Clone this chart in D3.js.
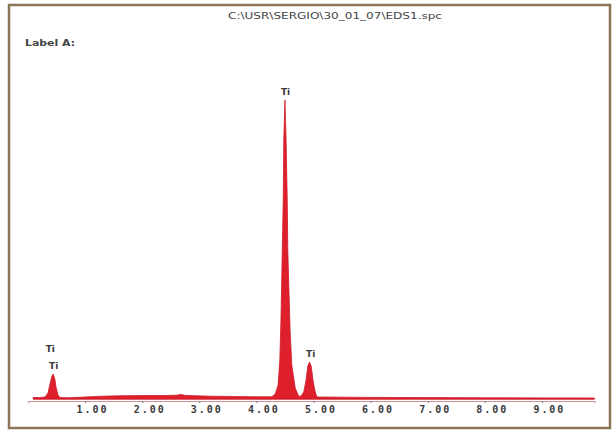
<!DOCTYPE html>
<html>
<head>
<meta charset="utf-8">
<script src="https://cdn.jsdelivr.net/npm/d3@7"></script>
<style>
  body { margin: 0; background: #ffffff; }
  .tickText { font-family: "DejaVu Sans Mono", monospace; font-weight: bold; font-size: 10px; fill: #3a3a3a; }
  .peakText { font-family: "DejaVu Sans", sans-serif; font-weight: bold; font-size: 9px; fill: #3a3a3a; }
  .headText { font-family: "DejaVu Sans", sans-serif; font-size: 8px; fill: #444; }
</style>
</head>
<body>
<div id="spectrum"></div>
<script>
// Spectrum (keV, counts)
var energy = [0.09, 0.20, 0.30, 0.35, 0.385, 0.42, 0.44, 0.47, 0.49, 0.525, 0.56, 0.70, 1.00, 1.30, 1.60, 2.00, 2.40,
    2.60, 2.68, 2.76, 3.20, 3.60, 4.00, 4.27, 4.33, 4.38, 4.41, 4.43, 4.45, 4.47, 4.48, 4.50, 4.52, 4.54, 4.55, 4.57,
    4.59, 4.62, 4.68, 4.73, 4.76, 4.78, 4.83, 4.87, 4.90, 4.93, 4.96, 4.99, 5.03, 5.06, 5.50, 6.00, 7.00, 8.00, 9.00, 9.92];
var counts = [15, 15, 20, 60, 150, 230, 250, 200, 120, 40, 15, 12, 20, 28, 32, 35, 35,
    38, 45, 36, 28, 25, 22, 22, 50, 140, 390, 790, 1390, 2000, 2600, 3000, 2600, 2000, 1490, 1090,
    690, 340, 110, 40, 25, 30, 70, 190, 330, 370, 330, 190, 70, 20, 18, 16, 14, 12, 11, 10];

// Peak labels
var peakNames = ["Ti", "Ti", "Ti", "Ti"];
var peakEnergy = [0.39, 0.45, 4.51, 4.95];
var peakCounts = [420, 250, 3000, 370];

var tickValues = [1, 2, 3, 4, 5, 6, 7, 8, 9];
var fileName = "C:\\USR\\SERGIO\\30_01_07\\EDS1.spc";
var labelName = "Label A:";

var svgWidth = 612;
var svgHeight = 432;

var svg = d3.select("#spectrum")
    .append("svg")
    .attr("width", svgWidth)
    .attr("height", svgHeight);

// brown frame
svg.append("rect")
    .attr("x", 9)
    .attr("y", 5)
    .attr("width", 601)
    .attr("height", 423)
    .attr("fill", "none")
    .attr("stroke", "#8c7458")
    .attr("stroke-width", 2.5);

// scales
var xScale = d3.scaleLinear()
    .domain([0, 9.92])
    .range([28, 28 + 57.1 * 9.92]);

var yScale = d3.scaleLinear()
    .domain([0, 3000])
    .range([399, 100]);

var spectrum = energy.map(function(e, i) {
    return { e: e, c: counts[i] };
});

// axis
var bottomAxis = d3.axisBottom(xScale)
    .tickValues(tickValues)
    .tickSize(2)
    .tickFormat(d3.format(".2f"));

var axisGroup = svg.append("g")
    .attr("transform", "translate(0, 401)")
    .call(bottomAxis);

axisGroup.select(".domain")
    .attr("stroke", "#d48d93")
    .attr("stroke-width", 1.2);

axisGroup.selectAll(".tick line")
    .attr("stroke", "#777");

axisGroup.selectAll(".tick text")
    .attr("class", "tickText")
    .attr("dx", 6)
    .attr("dy", 7)
    .attr("textLength", 30)
    .attr("lengthAdjust", "spacing");

// red baseline
svg.append("line")
    .attr("x1", xScale(0.09))
    .attr("x2", xScale(9.92))
    .attr("y1", yScale(0))
    .attr("y2", yScale(0))
    .attr("stroke", "#c8202c")
    .attr("stroke-width", 1);

// spectrum fill
var area = d3.area()
    .x(d => xScale(d.e))
    .y0(yScale(0))
    .y1(d => yScale(d.c));

svg.append("path")
    .datum(spectrum)
    .attr("d", area)
    .attr("fill", "#de1f2c")
    .attr("stroke", "#cf1a28")
    .attr("stroke-width", 0.8);

// peak labels
svg.selectAll(null)
    .data(peakNames)
    .enter().append("text")
    .attr("class", "peakText")
    .attr("x", (d, i) => xScale(peakEnergy[i]))
    .attr("y", (d, i) => yScale(peakCounts[i]) - 5)
    .attr("text-anchor", "middle")
    .text(d => d);

// header texts
svg.append("text")
    .attr("class", "headText")
    .attr("x", 228)
    .attr("y", 19)
    .attr("textLength", 214)
    .attr("lengthAdjust", "spacingAndGlyphs")
    .text(fileName);

svg.append("text")
    .attr("class", "headText")
    .attr("x", 25)
    .attr("y", 46)
    .attr("textLength", 50)
    .attr("lengthAdjust", "spacingAndGlyphs")
    .style("font-weight", "bold")
    .text(labelName);
</script>
</body>
</html>
